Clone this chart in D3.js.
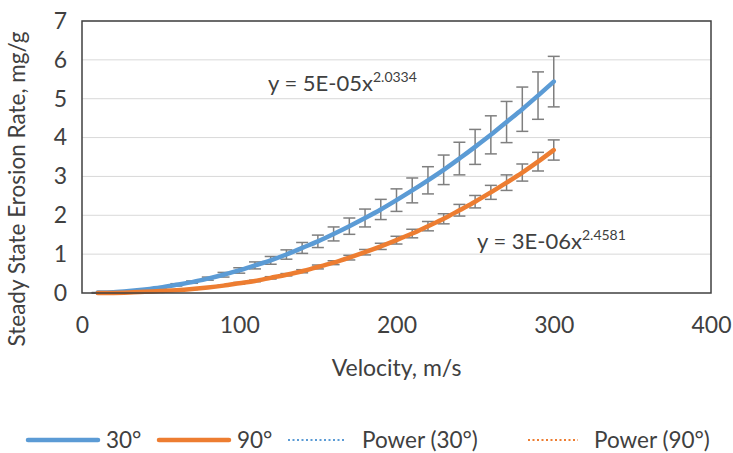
<!DOCTYPE html>
<html>
<head>
<meta charset="utf-8">
<script src="https://cdn.jsdelivr.net/npm/d3@7"></script>
<style>
  body { margin: 0; background: #fff; }
  text { font-family: Lato, "Open Sans", sans-serif; fill: #404040; }
</style>
</head>
<body>
<div id="chart-area"></div>
<script>
// velocity (m/s)
const velocity = [10, 20, 30, 40, 50, 60, 70, 80, 90, 100, 110, 120, 130, 140, 150,
  160, 170, 180, 190, 200, 210, 220, 230, 240, 250, 260, 270, 280, 290, 300];

// erosion rate, 30 deg
const rate30 = [0.01, 0.02, 0.05, 0.09, 0.14, 0.21, 0.28, 0.37, 0.47, 0.58, 0.71, 0.84, 0.99, 1.16, 1.33,
  1.52, 1.72, 1.93, 2.15, 2.39, 2.64, 2.90, 3.17, 3.46, 3.76, 4.07, 4.40, 4.73, 5.08, 5.44];
const err30 = [0.00, 0.00, 0.01, 0.01, 0.02, 0.03, 0.03, 0.04, 0.06, 0.07, 0.09, 0.10, 0.12, 0.14, 0.16,
  0.18, 0.21, 0.23, 0.26, 0.29, 0.32, 0.35, 0.38, 0.42, 0.45, 0.49, 0.53, 0.57, 0.61, 0.65];

// erosion rate, 90 deg
const rate90 = [0.00, 0.00, 0.01, 0.03, 0.05, 0.07, 0.10, 0.14, 0.19, 0.25, 0.31, 0.39, 0.47, 0.56, 0.67,
  0.78, 0.91, 1.05, 1.20, 1.36, 1.53, 1.72, 1.91, 2.13, 2.35, 2.59, 2.84, 3.10, 3.38, 3.68];
const err90 = [0.00, 0.00, 0.00, 0.00, 0.00, 0.01, 0.01, 0.01, 0.01, 0.02, 0.02, 0.03, 0.03, 0.04, 0.05,
  0.05, 0.06, 0.07, 0.08, 0.10, 0.11, 0.12, 0.13, 0.15, 0.16, 0.18, 0.20, 0.22, 0.24, 0.26];

const xTicks = [0, 100, 200, 300, 400];
const yTicks = [0, 1, 2, 3, 4, 5, 6, 7];

const series = [
  { name: "30°", values: rate30, err: err30, color: "#5B9BD5", eq: "y = 5E-05x", exp: "2.0334" },
  { name: "90°", values: rate90, err: err90, color: "#ED7D31", eq: "y = 3E-06x", exp: "2.4581" }
];

const MARGIN = { LEFT: 82, RIGHT: 22, TOP: 21, BOTTOM: 160 };
const W = 733, H = 453;
const WIDTH = W - MARGIN.LEFT - MARGIN.RIGHT;
const HEIGHT = H - MARGIN.TOP - MARGIN.BOTTOM;

const svg = d3.select("#chart-area").append("svg")
  .attr("width", W)
  .attr("height", H);

const g = svg.append("g")
  .attr("transform", `translate(${MARGIN.LEFT}, ${MARGIN.TOP})`);

const x = d3.scaleLinear().domain([0, 400]).range([0, WIDTH]);
const y = d3.scaleLinear().domain([0, 7]).range([HEIGHT, 0]);

// gridlines
g.append("g").selectAll("line")
  .data(yTicks.slice(1))
  .enter().append("line")
  .attr("x1", 0).attr("x2", WIDTH)
  .attr("y1", d => y(d)).attr("y2", d => y(d))
  .attr("stroke", "#d9d9d9")
  .attr("stroke-width", 1);

// axes (labels only, Excel style)
const yAxis = g.append("g")
  .call(d3.axisLeft(y).tickValues(yTicks).tickFormat(d3.format("d")).tickSize(0).tickPadding(15));
const xAxis = g.append("g")
  .attr("transform", `translate(0, ${HEIGHT})`)
  .call(d3.axisBottom(x).tickValues(xTicks).tickSize(0).tickPadding(24));
[yAxis, xAxis].forEach(a => {
  a.select(".domain").remove();
  a.selectAll("text").style("font-size", "23px").attr("fill", "#404040");
});

// error bars
series.forEach(s => {
  const eb = g.append("g").attr("stroke", "#7f7f7f").attr("stroke-width", 1.5);
  velocity.forEach((v, i) => {
    const cx = x(v), top = y(s.values[i] + s.err[i]), bot = y(s.values[i] - s.err[i]);
    eb.append("line").attr("x1", cx).attr("x2", cx).attr("y1", top).attr("y2", bot);
    eb.append("line").attr("x1", cx - 6).attr("x2", cx + 6).attr("y1", top).attr("y2", top);
    eb.append("line").attr("x1", cx - 6).attr("x2", cx + 6).attr("y1", bot).attr("y2", bot);
  });
});

// series lines
const line = d3.line()
  .x(d => x(d[0]))
  .y(d => y(d[1]))
  .curve(d3.curveMonotoneX);

series.forEach(s => {
  const pts = velocity.map((v, i) => [v, s.values[i]]);
  // power trendline (sits under the data line)
  g.append("path")
    .attr("d", line(pts))
    .attr("fill", "none")
    .attr("stroke", s.color)
    .attr("stroke-width", 2)
    .attr("stroke-dasharray", "2,2");
  g.append("path")
    .attr("d", line(pts))
    .attr("fill", "none")
    .attr("stroke", s.color)
    .attr("stroke-width", 4.5)
    .attr("stroke-linecap", "round");
});

// plot border
g.append("rect")
  .attr("width", WIDTH).attr("height", HEIGHT)
  .attr("fill", "none")
  .attr("stroke", "#404040")
  .attr("stroke-width", 1.5);

// trendline equations
const eqPos = [[268 - MARGIN.LEFT, 91 - MARGIN.TOP], [477 - MARGIN.LEFT, 249 - MARGIN.TOP]];
series.forEach((s, i) => {
  const t = g.append("text")
    .attr("x", eqPos[i][0]).attr("y", eqPos[i][1])
    .style("font-size", "22px");
  t.append("tspan").text(s.eq);
  t.append("tspan").text(s.exp).attr("dy", -9).style("font-size", "14px");
});

// axis titles
svg.append("text")
  .attr("transform", `translate(25, ${MARGIN.TOP + HEIGHT / 2 + 32}) rotate(-90)`)
  .attr("text-anchor", "middle")
  .style("font-size", "22.5px")
  .text("Steady State Erosion Rate, mg/g");

svg.append("text")
  .attr("x", MARGIN.LEFT + WIDTH / 2)
  .attr("y", 376)
  .attr("text-anchor", "middle")
  .style("font-size", "23px")
  .text("Velocity, m/s");

// legend
const legendItems = [
  { label: "30°", color: "#5B9BD5", dash: null, x0: 28, x1: 98 },
  { label: "90°", color: "#ED7D31", dash: null, x0: 159, x1: 229 },
  { label: "Power (30°)", color: "#5B9BD5", dash: "2,2.5", x0: 288, x1: 346 },
  { label: "Power (90°)", color: "#ED7D31", dash: "2,2.5", x0: 528, x1: 578 }
];
const legend = svg.append("g");
legendItems.forEach(d => {
  legend.append("line")
    .attr("x1", d.x0).attr("x2", d.x1)
    .attr("y1", 440).attr("y2", 440)
    .attr("stroke", d.color)
    .attr("stroke-width", d.dash ? 2 : 4.5)
    .attr("stroke-dasharray", d.dash)
    .attr("stroke-linecap", d.dash ? "butt" : "round");
  legend.append("text")
    .attr("x", d.x1 + (d.dash ? 16 : 8))
    .attr("y", 448)
    .style("font-size", "22.5px")
    .text(d.label);
});
</script>
</body>
</html>
